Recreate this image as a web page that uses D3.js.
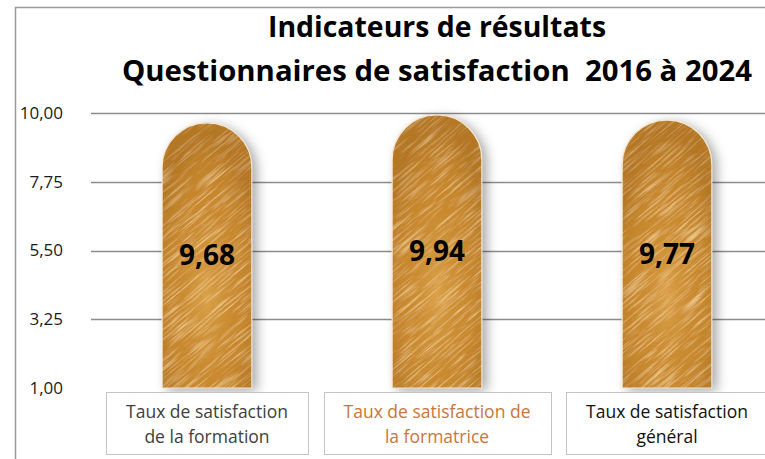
<!DOCTYPE html>
<html>
<head>
<meta charset="utf-8">
<script src="https://cdn.jsdelivr.net/npm/d3@7"></script>
<style>
  html, body { margin: 0; padding: 0; background: #fff; }
  svg { display: block; font-family: "Open Sans", "Noto Sans", sans-serif; }
</style>
</head>
<body>
<div id="chart"></div>
<script>
// chart values
var titleLines = ["Indicateurs de résultats", "Questionnaires de satisfaction  2016 à 2024"];
var categories = ["formation", "formatrice", "general"];
var categoryLines = [
  ["Taux de satisfaction", "de la formation"],
  ["Taux de satisfaction de", "la formatrice"],
  ["Taux de satisfaction", "général"]
];
var categoryColors = ["#404040", "#c8763a", "#111111"];
var values = [9.68, 9.94, 9.77];
var yTicks = [1, 3.25, 5.5, 7.75, 10];

var fWidth = 765;
var fHeight = 459;

var locale = d3.formatLocale({ decimal: ",", thousands: " ", grouping: [3], currency: ["", " €"] });
var fmt = locale.format(".2f");

var svg = d3.select("#chart").append("svg")
  .attr("width", fWidth)
  .attr("height", fHeight);

var defs = svg.append("defs");

// brushed metal / wood grain
var filter = defs.append("filter")
  .attr("id", "brush")
  .attr("x", 0).attr("y", 0).attr("width", 1).attr("height", 1);
filter.append("feTurbulence")
  .attr("type", "fractalNoise")
  .attr("baseFrequency", "0.025 0.55")
  .attr("numOctaves", 3)
  .attr("seed", 11)
  .attr("result", "noise");
filter.append("feColorMatrix")
  .attr("in", "noise")
  .attr("type", "matrix")
  .attr("values", "0 0 0 0 0.98  0 0 0 0 0.76  0 0 0 0 0.38  2.2 0 0 0 -1.1")
  .attr("result", "light");
filter.append("feColorMatrix")
  .attr("in", "noise")
  .attr("type", "matrix")
  .attr("values", "0 0 0 0 0.52  0 0 0 0 0.28  0 0 0 0 0.04  -2.2 0 0 0 0.95")
  .attr("result", "dark");
var merge = filter.append("feMerge").attr("result", "mix");
merge.append("feMergeNode").attr("in", "SourceGraphic");
merge.append("feMergeNode").attr("in", "dark");
merge.append("feMergeNode").attr("in", "light");
filter.append("feComposite").attr("in", "mix").attr("in2", "SourceGraphic").attr("operator", "in");

var shadow = defs.append("filter")
  .attr("id", "shadow")
  .attr("x", "-30%").attr("y", "-10%").attr("width", "160%").attr("height", "125%");
shadow.append("feDropShadow")
  .attr("dx", 5).attr("dy", 3)
  .attr("stdDeviation", 6)
  .attr("flood-color", "#000")
  .attr("flood-opacity", 0.35);

var glow = defs.append("radialGradient")
  .attr("id", "glow")
  .attr("cx", "50%").attr("cy", "65%").attr("r", "60%");
glow.append("stop").attr("offset", "0%").attr("stop-color", "#f2c270").attr("stop-opacity", 0.45);
glow.append("stop").attr("offset", "55%").attr("stop-color", "#d99a3e").attr("stop-opacity", 0.1);
glow.append("stop").attr("offset", "100%").attr("stop-color", "#8a500c").attr("stop-opacity", 0.3);

// frame
svg.append("path")
  .attr("d", "M15.5," + fHeight + "V7.5H" + fWidth)
  .attr("fill", "none")
  .attr("stroke", "#9a9a9a")
  .attr("stroke-width", 1.5);

// title
svg.append("g")
  .selectAll("text")
  .data(titleLines)
  .join("text")
  .attr("x", 437)
  .attr("y", function(d, i) { return 37 + i * 44; })
  .attr("text-anchor", "middle")
  .attr("font-weight", 700)
  .attr("font-size", 28)
  .attr("fill", "#000")
  .attr("textLength", function(d, i) { return i ? 630 : 338; })
  .attr("lengthAdjust", "spacingAndGlyphs")
  .style("white-space", "pre")
  .text(function(d) { return d; });

var scaleX = d3.scaleBand()
  .domain(categories)
  .range([92, 782])
  .paddingInner(0.61)
  .paddingOuter(0.305);

var scaleY = d3.scaleLinear()
  .domain([1, 10])
  .range([388, 113]);

// grid
svg.append("g")
  .selectAll("line")
  .data(yTicks.filter(function(d) { return d > 1; }))
  .join("line")
  .attr("x1", 91)
  .attr("x2", fWidth)
  .attr("y1", function(d) { return Math.round(scaleY(d)) + 0.5; })
  .attr("y2", function(d) { return Math.round(scaleY(d)) + 0.5; })
  .attr("stroke", "#8c8c8c")
  .attr("stroke-width", 1.3);

// y labels
svg.append("g")
  .selectAll("text")
  .data(yTicks)
  .join("text")
  .attr("x", 63)
  .attr("y", function(d) { return scaleY(d); })
  .attr("dy", "0.35em")
  .attr("text-anchor", "end")
  .attr("font-size", 17)
  .attr("fill", "#1a1a1a")
  .text(function(d) { return fmt(d); });

function barPath(d) {
  var x0 = scaleX(d.key);
  var w = scaleX.bandwidth();
  var r = w / 2;
  var yTop = scaleY(d.value);
  var yBottom = scaleY(1);
  return "M" + x0 + "," + yBottom +
    "V" + (yTop + r) +
    "A" + r + "," + r + " 0 0 1 " + (x0 + w) + "," + (yTop + r) +
    "V" + yBottom + "Z";
}

var barData = categories.map(function(c, i) { return { key: c, value: values[i], i: i }; });

barData.forEach(function(d) {
  defs.append("clipPath")
    .attr("id", "clip-" + d.i)
    .append("path")
    .attr("d", barPath(d));
});

var bars = svg.append("g")
  .selectAll("g")
  .data(barData)
  .join("g");

bars.append("path")
  .attr("d", barPath)
  .attr("fill", "#c4852e")
  .attr("filter", "url(#shadow)");

bars.each(function(d) {
  var g = d3.select(this).append("g").attr("clip-path", "url(#clip-" + d.i + ")");
  var cx = scaleX(d.key) + scaleX.bandwidth() / 2;
  var cy = (scaleY(d.value) + scaleY(1)) / 2;
  g.append("g")
    .attr("transform", "rotate(-40," + cx + "," + cy + ")")
    .append("rect")
    .attr("x", cx - 220)
    .attr("y", cy - 220)
    .attr("width", 440)
    .attr("height", 440)
    .attr("fill", "#c7862c")
    .attr("filter", "url(#brush)");
  g.append("path")
    .attr("d", barPath(d))
    .attr("fill", "url(#glow)");
});

bars.append("path")
  .attr("d", barPath)
  .attr("fill", "none")
  .attr("stroke", "#f4e6cf")
  .attr("stroke-width", 1.2);

bars.append("text")
  .attr("x", function(d) { return scaleX(d.key) + scaleX.bandwidth() / 2; })
  .attr("y", function(d) { return (scaleY(d.value) + scaleY(1)) / 2; })
  .attr("dy", "0.36em")
  .attr("text-anchor", "middle")
  .attr("font-weight", 700)
  .attr("font-size", 28)
  .attr("fill", "#000")
  .text(function(d) { return fmt(d.value); });

// category boxes
var cats = svg.append("g")
  .selectAll("g")
  .data(barData)
  .join("g");

var rects = cats.append("rect")
  .attr("y", 392.5)
  .attr("height", 62)
  .attr("fill", "#fff")
  .attr("stroke", "#c4c4c4")
  .attr("stroke-width", 1);

cats.append("text")
  .attr("text-anchor", "middle")
  .attr("font-size", 17.5)
  .attr("fill", function(d) { return categoryColors[d.i]; })
  .selectAll("tspan")
  .data(function(d) { return categoryLines[d.i].map(function(t, j) { return { t: t, j: j, key: d.key }; }); })
  .join("tspan")
  .attr("x", function(d) { return scaleX(d.key) + scaleX.bandwidth() / 2; })
  .attr("y", function(d) { return 418 + d.j * 25; })
  .text(function(d) { return d.t; });

rects.each(function(d) {
  var txt = d3.select(this.parentNode).select("text").node();
  var w = txt.getBBox().width + 40;
  var cx = scaleX(d.key) + scaleX.bandwidth() / 2;
  d3.select(this)
    .attr("x", Math.round(cx - w / 2) + 0.5)
    .attr("width", Math.round(w));
});
</script>
</body>
</html>
